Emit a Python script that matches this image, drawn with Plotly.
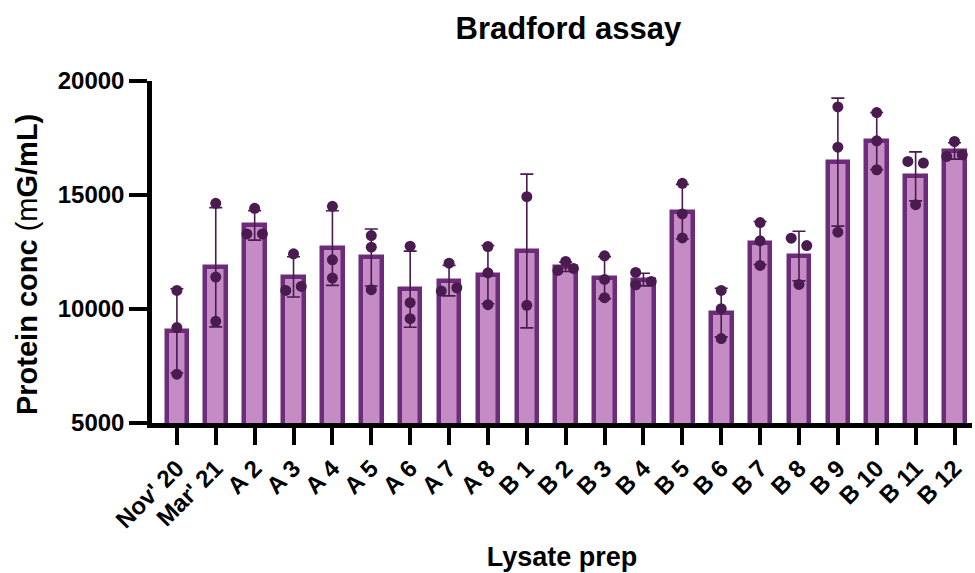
import numpy as np
import plotly.graph_objects as go

# Lysate preparations on the x axis
preps = ["Nov' 20", "Mar' 21", "A 2", "A 3", "A 4", "A 5", "A 6", "A 7", "A 8",
         "B 1", "B 2", "B 3", "B 4", "B 5", "B 6", "B 7", "B 8", "B 9", "B 10",
         "B 11", "B 12"]

# Replicate Bradford readings per prep (mG/mL)
replicates = [
    [10815, 9184, 7142],
    [14634, 11399, 9460],
    [14416, 13294, 13294],
    [12420, 10816, 10991],
    [14504, 12157, 11356],
    [13221, 12711, 10845],
    [12755, 10277, 9577],
    [12011, 10787, 10932],
    [12741, 11589, 10189],
    [14927, 10160],
    [12084, 11691, 11778],
    [12332, 11297, 10495],
    [11603, 11064, 11210],
    [15510, 14168, 13119],
    [10816, 10014, 8702],
    [13790, 12988, 11909],
    [13105, 12784, 11078],
    [18863, 17099, 13367],
    [18615, 17376, 16107],
    [16472, 16400, 14577],
    [17347, 16691, 16763],
]

# Horizontal spread of overlapping dots (in category units)
dot_spread = [
    [0, 0, 0], [0, 0, 0], [0, -0.2, 0.2], [0, -0.2, 0.2], [0, 0, 0],
    [0, 0, 0], [0, 0, 0], [0, -0.2, 0.2], [0, 0, 0], [0, 0],
    [0, -0.2, 0.2], [0, 0, 0], [-0.2, -0.2, 0.2], [0, 0, 0], [0, 0, 0],
    [0, 0, 0], [-0.2, 0.2, 0], [0, 0, 0], [0, 0, 0], [-0.2, 0.2, 0],
    [0, -0.2, 0.2],
]

y_ticks = [5000, 10000, 15000, 20000]

FILL = "#C48BC4"
EDGE = "#6C2C79"
DOT = "#4A1B4F"
FONT = "Liberation Sans, Arial, sans-serif"

idx = np.arange(len(preps))
means = np.array([np.mean(r) for r in replicates])
sds = np.array([np.std(r, ddof=1) for r in replicates])

fig = go.Figure()

fig.add_trace(go.Bar(
    x=idx, y=means, width=0.53,
    marker=dict(color=FILL, line=dict(color=EDGE, width=4.5)),
    hoverinfo="skip", showlegend=False,
))

# Mean +/- SD whiskers
fig.add_trace(go.Scatter(
    x=idx, y=means, mode="markers",
    marker=dict(size=1, opacity=0),
    error_y=dict(type="data", array=sds, visible=True,
                 color=DOT, thickness=1.6, width=6.5),
    hoverinfo="skip", showlegend=False,
))

# Individual replicates
px, py = [], []
for i, (vals, offs) in enumerate(zip(replicates, dot_spread)):
    for v, o in zip(vals, offs):
        px.append(i + o)
        py.append(v)
fig.add_trace(go.Scatter(
    x=px, y=py, mode="markers",
    marker=dict(size=11, color=DOT),
    cliponaxis=False, showlegend=False,
))

fig.update_layout(
    width=975, height=573,
    margin=dict(l=152, r=3, t=81, b=150),
    plot_bgcolor="white", paper_bgcolor="white",
    font=dict(family=FONT, color="black"),
    title=dict(text="Bradford assay", x=0.583, xanchor="center",
               y=0.951, yanchor="middle",
               font=dict(family=FONT, size=31, weight="bold")),
    bargap=0,
)

# Y axis title, placed as a rotated annotation left of the tick labels
fig.add_annotation(
    text="<b>Protein conc </b>(m<b>G/mL)</b>",
    xref="paper", yref="paper", x=-0.1524, y=0.462,
    xanchor="center", yanchor="middle", textangle=-90,
    showarrow=False, font=dict(family=FONT, size=29),
)

fig.update_xaxes(
    range=[-0.64, 20.45],
    tickmode="array", tickvals=idx, ticktext=preps,
    tickangle=-45,
    tickfont=dict(family=FONT, size=24, weight="bold"),
    ticks="outside", ticklen=17, tickwidth=4, tickcolor="black",
    showline=True, linewidth=4.5, linecolor="black",
    showgrid=False, zeroline=False,
    title=dict(text="<b>Lysate prep</b>", standoff=16,
               font=dict(family=FONT, size=27)),
)

fig.update_yaxes(
    range=[5000, 20000],
    tickmode="array", tickvals=y_ticks, ticktext=[str(t) for t in y_ticks],
    tickfont=dict(family=FONT, size=24, weight="bold"),
    ticks="outside", ticklen=18, tickwidth=4, tickcolor="black",
    showline=True, linewidth=4.5, linecolor="black",
    showgrid=False, zeroline=False,
)

fig.write_html("out.html")
